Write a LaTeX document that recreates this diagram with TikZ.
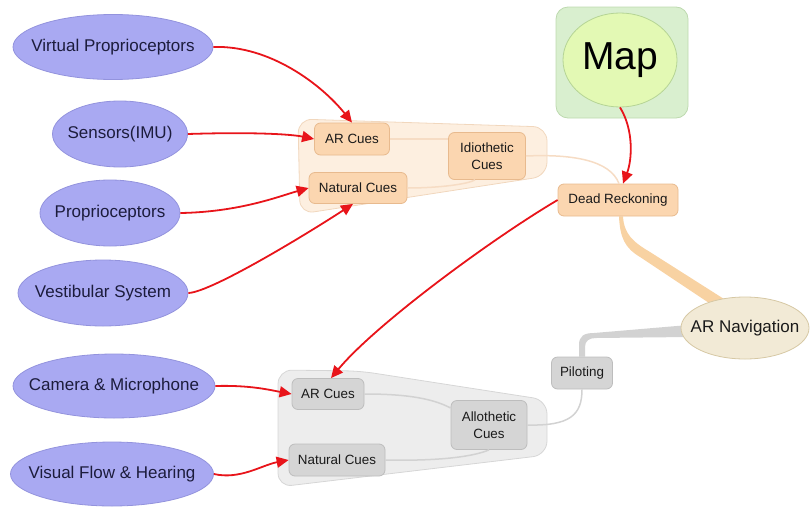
\documentclass[tikz,border=0pt]{standalone}
\usepackage{fontspec}
\setmainfont{Liberation Sans}
\usetikzlibrary{shapes.geometric,arrows.meta,backgrounds,calc}
\definecolor{purp}{HTML}{A9A9F2}
\definecolor{purpd}{HTML}{9393DD}
\definecolor{purptxt}{HTML}{1C1C3C}
\definecolor{ora}{HTML}{FBD6B0}
\definecolor{orad}{HTML}{E8BA8E}
\definecolor{oragrp}{HTML}{FDEFE0}
\definecolor{oragrpd}{HTML}{F1D7BD}
\definecolor{oraline}{HTML}{F6DCC4}
\definecolor{oraband}{HTML}{F8D2A2}
\definecolor{gry}{HTML}{D5D5D5}
\definecolor{gryd}{HTML}{BDBDBD}
\definecolor{grygrp}{HTML}{EDEDED}
\definecolor{grygrpd}{HTML}{D6D6D6}
\definecolor{gryline}{HTML}{D2D2D2}
\definecolor{mapbox}{HTML}{D9EFCF}
\definecolor{mapboxd}{HTML}{BDD9AF}
\definecolor{mapell}{HTML}{E3F9B4}
\definecolor{mapelld}{HTML}{B5D495}
\definecolor{navf}{HTML}{F2EAD6}
\definecolor{navd}{HTML}{D6C8A4}
\definecolor{arrred}{HTML}{E8141A}
\definecolor{txt}{HTML}{1A1A1A}
\newcommand\zb[1]{\makebox[0pt]{#1}}
\begin{document}
\begin{tikzpicture}[x=1pt,y=-1pt,
  src/.style={ellipse,draw=purpd,fill=purp,line width=0.8pt,inner sep=0pt,text=purptxt,font=\fontsize{17}{19}\selectfont},
  onode/.style={rectangle,rounded corners=6pt,draw=orad,fill=ora,line width=0.8pt,inner sep=0pt,align=center,text=txt,font=\fontsize{13.4}{17}\selectfont},
  gnode/.style={rectangle,rounded corners=6pt,draw=gryd,fill=gry,line width=0.8pt,inner sep=0pt,align=center,text=txt,font=\fontsize{13.4}{17}\selectfont},
  redarr/.style={draw=arrred,line width=1.8pt,-{Triangle[length=12pt,width=11pt]}},
  oline/.style={draw=oraline,line width=1.5pt},
  gline/.style={draw=gryline,line width=1.5pt},
  ogroup/.style={draw=oragrpd,fill=oragrp,line width=0.8pt,rounded corners=14pt},
  ggroup/.style={draw=grygrpd,fill=grygrp,line width=0.8pt,rounded corners=14pt}]
\useasboundingbox (0,0) rectangle (810,506);

% source ellipses
\node[src,minimum width=200pt,minimum height=65pt] (vp) at (113,47) {\zb{Virtual Proprioceptors}};
\node[src,minimum width=135pt,minimum height=66pt] (sen) at (120,134) {\zb{Sensors(IMU)}};
\node[src,minimum width=140pt,minimum height=66pt] (pro) at (110,213) {\zb{Proprioceptors}};
\node[src,minimum width=170pt,minimum height=66pt] (ves) at (103,293) {\zb{Vestibular System}};
\node[src,minimum width=202pt,minimum height=64pt] (cam) at (114,386) {\zb{Camera \& Microphone}};
\node[src,minimum width=203pt,minimum height=64pt] (vis) at (112,474) {\zb{Visual Flow \& Hearing}};

% map
\draw[draw=mapboxd,fill=mapbox,line width=0.8pt,rounded corners=12pt] (556,7) rectangle (688,118);
\node[ellipse,draw=mapelld,fill=mapell,line width=0.8pt,inner sep=0pt,minimum width=114pt,minimum height=94pt,text=black,font=\fontsize{39}{40}\selectfont] (map) at (620,60) {\zb{Map}};

% idiothetic group nodes
\node[onode,minimum width=75pt,minimum height=32pt] (ar1) at (352,139) {AR Cues};
\node[onode,minimum width=77pt,minimum height=47pt] (idio) at (487,156) {Idiothetic\\Cues};
\node[onode,minimum width=98pt,minimum height=31pt] (nat1) at (358,188) {Natural Cues};
\node[onode,minimum width=120pt,minimum height=32pt] (dr) at (618,200) {Dead Reckoning};

% allothetic group nodes
\node[gnode,minimum width=72pt,minimum height=31pt] (ar2) at (328,394) {AR Cues};
\node[gnode,minimum width=76pt,minimum height=49pt] (allo) at (489,425) {Allothetic\\Cues};
\node[gnode,minimum width=96pt,minimum height=32pt] (nat2) at (337,460) {Natural Cues};
\node[gnode,minimum width=61pt,minimum height=32pt] (pil) at (582,373) {Piloting};

% AR navigation
\node[ellipse,draw=navd,fill=navf,line width=0.8pt,inner sep=0pt,minimum width=128pt,minimum height=62pt,text=txt,font=\fontsize{17}{19}\selectfont] (nav) at (745,328) {\zb{AR Navigation}};

\begin{pgfonlayer}{background}
  \path[ogroup] (298,119) -- (547,127) -- (547,176) -- (300,214) -- cycle;
  \path[ggroup] (278,370) -- (360,371) -- (547,400) -- (547,455) -- (278,487) -- cycle;
  % tapered bands
  \fill[oraband] ($(dr.south)+(1,0)$) .. controls (620,238) and (625,248) .. (640,257) -- (709,303) -- (724,299) -- (650,252) .. controls (633,242) and (624,234) .. ($(dr.south)+(5,0)$) -- cycle;
  \fill[gryline] ($(pil.north)+(-3,0)$) -- (579,345) .. controls (579,336) and (584,333) .. (594,333) -- ($(nav.west)+(8,-3)$) -- ($(nav.west)+(8,9)$) -- (596,338) .. controls (589,338) and (585,341) .. (585,347) -- ($(pil.north)+(3,0)$) -- cycle;
\end{pgfonlayer}

% internal light connectors
\draw[oline] (ar1.east) -- (ar1.east -| idio.west);
\draw[oline] (nat1.east) .. controls (440,188) and (468,184) .. ($(idio.south)+(-12,0)$);
\draw[oline] (idio.east) .. controls (572,154) and (610,160) .. ($(dr.north)+(1,0)$);
\draw[gline] (ar2.east) .. controls (400,394) and (430,397) .. ($(allo.west)+(0,-17)$);
\draw[gline] (nat2.east) .. controls (430,461) and (470,458) .. (allo.south);
\draw[gline] (allo.east) .. controls (570,426) and (582,415) .. (pil.south);

% red arrows
\draw[redarr] (vp.east) .. controls (270,45) and (322,85) .. (ar1.north);
\draw[redarr] (sen.east) .. controls (250,132) and (290,134) .. (ar1.west);
\draw[redarr] (pro.east) .. controls (240,212) and (280,196) .. (nat1.west);
\draw[redarr] (ves.east) .. controls (212,292) and (310,232) .. ($(nat1.south)+(-5,0)$);
\draw[redarr] (map.south) .. controls (634,130) and (632,160) .. ($(dr.north)+(5,0)$);
\draw[redarr] (dr.west) .. controls (490,240) and (375,325) .. ($(ar2.north)+(3,0)$);
\draw[redarr] (cam.east) .. controls (250,385) and (270,390) .. (ar2.west);
\draw[redarr] (vis.east) .. controls (240,480) and (262,465) .. (nat2.west);
\end{tikzpicture}
\end{document}
